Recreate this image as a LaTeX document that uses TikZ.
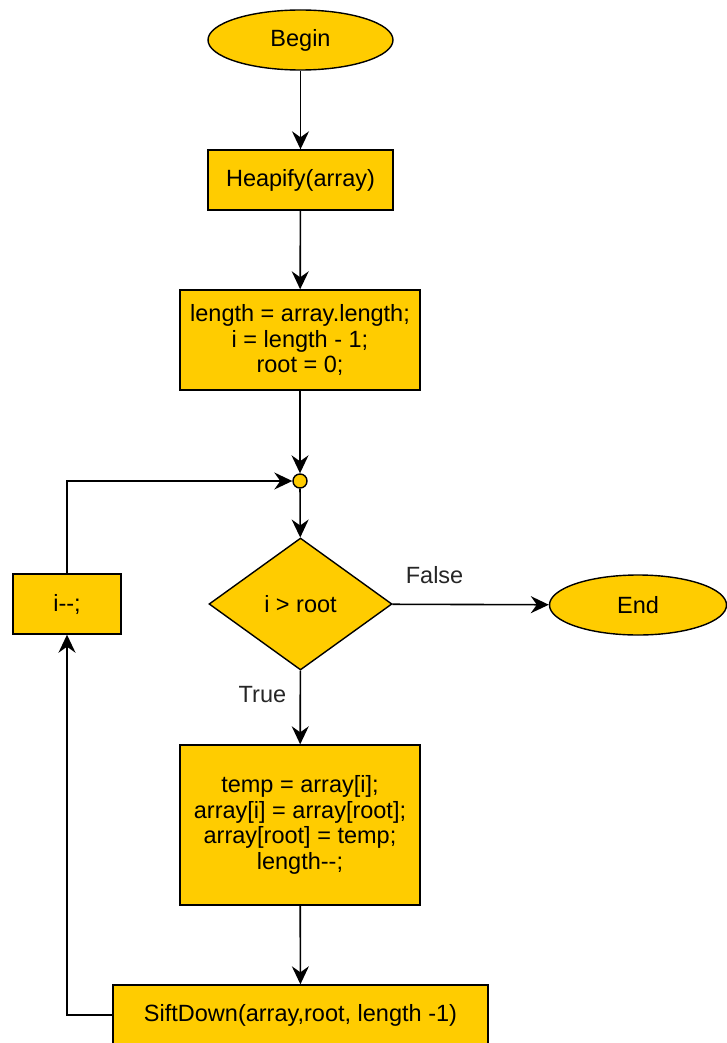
\documentclass[tikz,border=0pt]{standalone}
\usepackage{fontspec}
\setmainfont{Liberation Sans}
\usetikzlibrary{shapes.geometric,arrows.meta}
\definecolor{boxfill}{HTML}{FFCC00}
\newcommand{\dec}{\mbox{-}\mbox{-}}
\begin{document}
\begin{tikzpicture}[x=1pt,y=-1pt,
  every node/.style={font=\fontsize{23.5}{25.5}\selectfont},
  base/.style={draw=black,line width=1.4pt,fill=boxfill,inner sep=0pt,align=center},
  procbox/.style={base,rectangle},
  terminal/.style={base,ellipse},
  decision/.style={base,diamond},
  junction/.style={base,circle,minimum size=14pt},
  flow/.style={line width=1.6pt,-{Stealth[length=18pt,width=17pt,inset=6pt]}},
  lbl/.style={font=\fontsize{23.5}{26}\selectfont,text=black!85}]
\useasboundingbox (0,0) rectangle (726,1043);

\node[terminal,minimum width=185pt,minimum height=60pt] (begin) at (300.5,40) {Begin};
\node[procbox,minimum width=185pt,minimum height=60pt] (heap) at (300.5,180) {Heapify(array)};
\node[procbox,minimum width=240pt,minimum height=100pt] (init) at (300,340)
  {length = array.length;\\ i = length - 1;\\ root = 0;};
\node[junction] (junc) at (300,481) {};
\node[decision,minimum width=183pt,minimum height=132pt] (cond) at (300.5,604) {i > root};
\node[terminal,minimum width=177pt,minimum height=60pt] (end) at (638,605) {End};
\node[procbox,minimum width=108pt,minimum height=60pt] (dec) at (67,604) {i\dec;};
\node[procbox,minimum width=240pt,minimum height=160pt] (swap) at (300,825)
  {temp = array[i];\\ array[i] = array[root];\\ array[root] = temp;\\ length\dec;};
\node[procbox,minimum width=375pt,minimum height=60pt] (sift) at (300.5,1015)
  {SiftDown(array,root, length -1)};

\draw[flow] (begin) -- (heap);
\draw[flow] (heap) -- (init);
\draw[flow] (init) -- (junc);
\draw[flow] (junc) -- (cond);
\draw[flow] (cond) -- node[lbl,pos=0.33,left=10pt] {True} (swap);
\draw[flow] (cond) -- node[lbl,pos=0.27,above=17pt] {False} (end);
\draw[flow] (swap) -- (sift);
\draw[flow] (sift.west) -| (dec.south);
\draw[flow] (dec.north) |- (junc.west);
\end{tikzpicture}
\end{document}
